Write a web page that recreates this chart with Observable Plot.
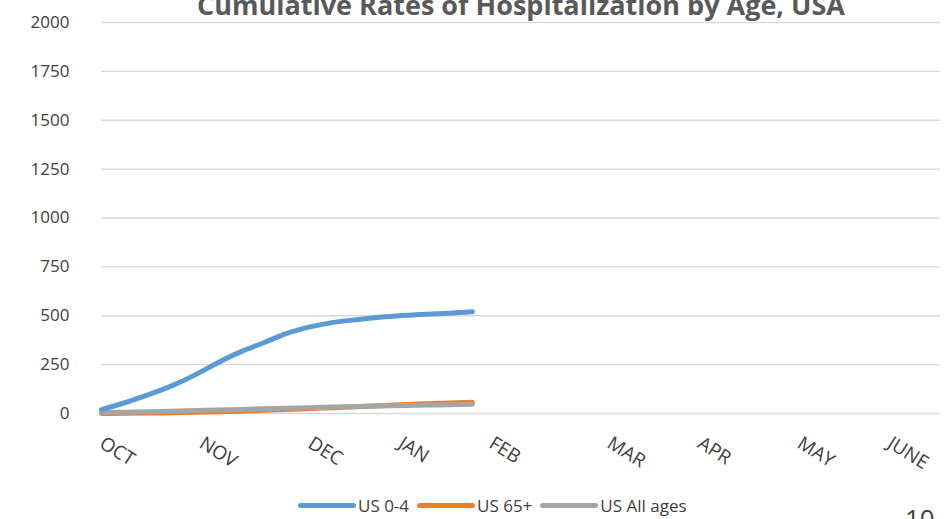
<!DOCTYPE html>
<html><head><meta charset="utf-8">
<script src="https://cdn.jsdelivr.net/npm/d3@7"></script>
<script src="https://cdn.jsdelivr.net/npm/@observablehq/plot@0.6"></script>
<style>
body{margin:0;background:#fff;font-family:"Open Sans",sans-serif;overflow:hidden}
#wrap{position:relative;width:946px;height:519px}
#legend{position:absolute;top:494px;left:298px;display:flex;gap:8px;font-size:17px;color:#404040}
#legend span{display:flex;align-items:center}
#legend i{display:inline-block;width:58px;height:5px;border-radius:3px;margin-right:2px}
#slide{position:absolute;left:905px;top:500px;font-size:26px;color:#404040}
</style></head>
<body><div id="wrap"><div id="legend"></div><div id="slide">10</div></div>
<script>
const weeks = d3.range(17);
const us04 = [20,55,95,140,195,258,315,362,410,443,466,480,492,501,508,513,520];
const us65 = [0,1,2,4,6,9,12,16,20,25,30,35,40,45,50,54,57];
const usAll = [5,7,9,12,15,18,21,24,27,30,33,36,39,41,43,45,47];
const monthTicks = [0,4.3,9,12.9,16.8,21.9,25.8,30.1,34];
const monthLabels = ["OCT","NOV","DEC","JAN","FEB","MAR","APR","MAY","JUNE"];
const yTicks = d3.range(0,2001,250);
const seriesNames = ["US 0-4","US 65+","US All ages"];
const colors = ["#5b9bd5","#ed7d31","#a5a5a5"];

const data = [us04,us65,usAll].flatMap((vals,i)=>vals.map((v,j)=>({week:weeks[j],value:v,series:seriesNames[i]})));

const chart = Plot.plot({
  width:946, height:519,
  marginTop:22, marginBottom:106, marginLeft:101, marginRight:6,
  style:{fontFamily:"Open Sans", fontSize:"16px", color:"#404040", overflow:"visible"},
  x:{domain:[0,36.2], ticks:monthTicks, tickFormat:(d,i)=>monthLabels[i], tickSize:0, tickRotate:32, tickPadding:28, label:null},
  y:{domain:[0,2000], ticks:yTicks, tickFormat:d=>String(d), tickSize:0, tickPadding:32, label:null},
  color:{domain:seriesNames, range:colors},
  marks:[
    Plot.gridY(yTicks,{stroke:"#d9d9d9", strokeOpacity:1, strokeWidth:1.3}),
    Plot.line(data.filter(d=>d.series!=="US 0-4"),{x:"week",y:"value",stroke:"series",strokeWidth:5,curve:"natural"}),
    Plot.line(data.filter(d=>d.series==="US 0-4"),{x:"week",y:"value",stroke:"series",strokeWidth:5,curve:"natural"}),
    Plot.text(["Cumulative Rates of Hospitalization by Age, USA"],{frameAnchor:"top",dy:-27,fontSize:27,fontWeight:"bold",fill:"#595959"})
  ]
});
chart.querySelectorAll('[aria-label="x-axis tick label"] text').forEach(t=>{t.setAttribute("text-anchor","start");t.setAttribute("font-size","19");});
chart.querySelectorAll('[aria-label="y-axis tick label"] text').forEach(t=>t.setAttribute("font-size","17"));
document.getElementById("wrap").prepend(chart);
chart.style.position="absolute";chart.style.top="0";chart.style.left="0";
const lg=document.getElementById("legend");
seriesNames.forEach((n,i)=>{const s=document.createElement("span");s.innerHTML=`<i style="background:${colors[i]}"></i>${n}`;lg.appendChild(s);});
</script></body></html>
